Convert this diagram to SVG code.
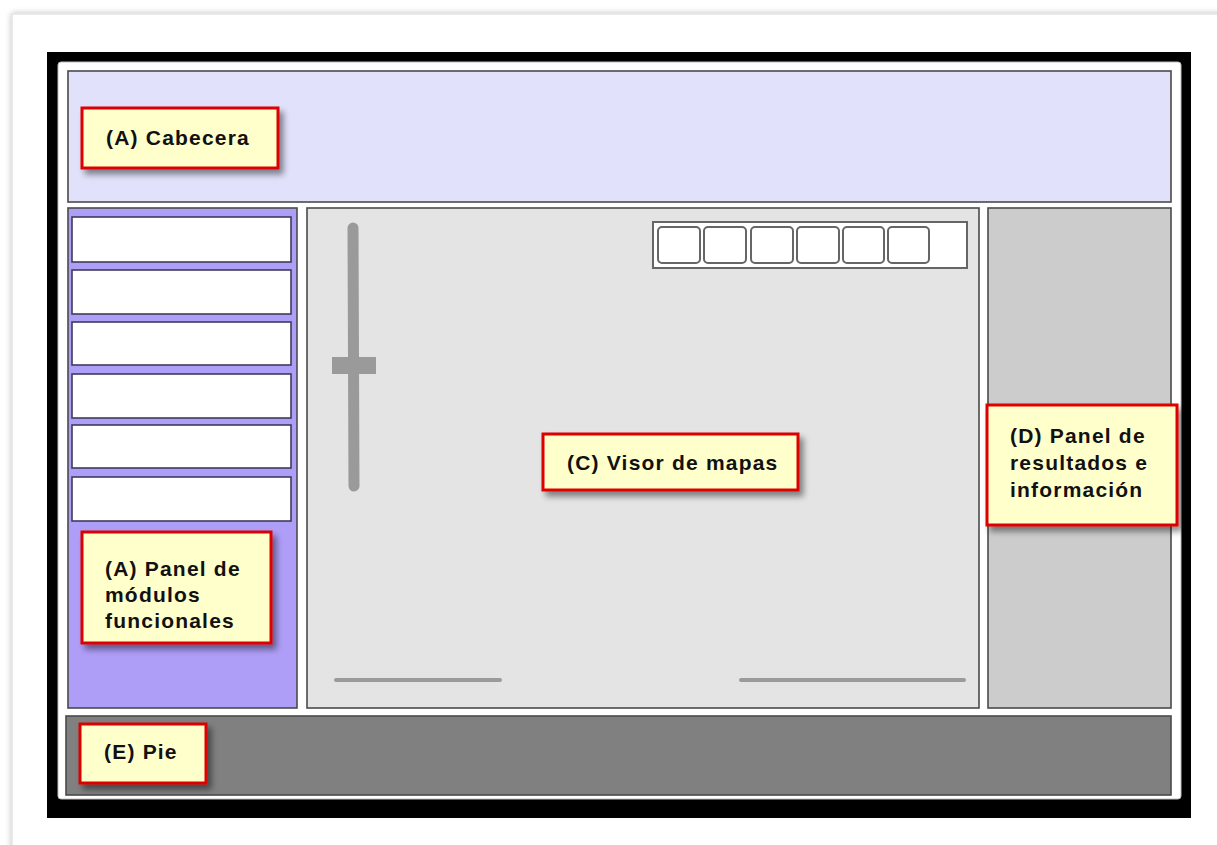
<svg xmlns="http://www.w3.org/2000/svg" width="1217" height="845" viewBox="0 0 1217 845">
<defs>
<filter id="shadow" x="-20%" y="-20%" width="150%" height="160%">
<feGaussianBlur in="SourceAlpha" stdDeviation="3"/>
<feOffset dx="4" dy="5" result="b"/>
<feComponentTransfer><feFuncA type="linear" slope="0.45"/></feComponentTransfer>
<feMerge><feMergeNode/><feMergeNode in="SourceGraphic"/></feMerge>
</filter>
<filter id="pageshadow" x="-5%" y="-5%" width="110%" height="110%">
<feGaussianBlur in="SourceAlpha" stdDeviation="3"/>
<feComponentTransfer><feFuncA type="linear" slope="0.25"/></feComponentTransfer>
<feMerge><feMergeNode/><feMergeNode in="SourceGraphic"/></feMerge>
</filter>
</defs>
<style>
.panel{stroke:#4a4a4a;stroke-width:1.6}
.item{fill:#ffffff;stroke:#3c3c5a;stroke-width:1.6}
.btn{fill:#ffffff;stroke:#666666;stroke-width:2}
.bar{fill:none;stroke:#9a9a9a;stroke-linecap:round}
.label rect{fill:#ffffcc;stroke:#dd0000;stroke-width:3;filter:url(#shadow)}
.label text{font-family:"Liberation Sans",Arial,sans-serif;font-weight:bold;font-size:21px;letter-spacing:1.2px;fill:#111111}
</style>
<rect width="1217" height="845" fill="#ffffff"/>
<rect x="12" y="14" width="1230" height="840" fill="#ffffff" stroke="#e4e4e4" stroke-width="1.5" filter="url(#pageshadow)"/>
<g id="frame">
<rect x="47" y="52" width="1144" height="766" fill="#000000"/>
<rect x="58" y="62" width="1123" height="737" rx="3" fill="#ffffff" stroke="#bdbdbd" stroke-width="1"/>
</g>
<g id="header">
<rect class="panel" x="68" y="71" width="1103" height="131" fill="#e1e1fb"/>
</g>
<g id="left-panel">
<rect class="panel" x="68" y="208" width="229" height="500" fill="#ae9ef8" stroke="#9585e8"/>
<rect class="item" x="72" y="217" width="219" height="45"/>
<rect class="item" x="72" y="270" width="219" height="44"/>
<rect class="item" x="72" y="322" width="219" height="43"/>
<rect class="item" x="72" y="374" width="219" height="44"/>
<rect class="item" x="72" y="425" width="219" height="43"/>
<rect class="item" x="72" y="477" width="219" height="44"/>
</g>
<g id="map-viewer">
<rect class="panel" x="307" y="208" width="672" height="500" fill="#e4e4e4"/>
<rect x="653" y="222" width="314" height="46" fill="#ffffff" stroke="#666666" stroke-width="2"/>
<rect class="btn" x="658" y="227" width="42" height="36" rx="4"/>
<rect class="btn" x="704" y="227" width="42" height="36" rx="4"/>
<rect class="btn" x="751" y="227" width="42" height="36" rx="4"/>
<rect class="btn" x="797" y="227" width="42" height="36" rx="4"/>
<rect class="btn" x="843" y="227" width="41" height="36" rx="4"/>
<rect class="btn" x="888" y="227" width="41" height="36" rx="4"/>
<line class="bar" x1="353" y1="228" x2="354" y2="486" stroke-width="11"/>
<rect x="332" y="357" width="44" height="17" fill="#9a9a9a"/>
<line class="bar" x1="336" y1="680" x2="500" y2="680" stroke-width="4"/>
<line class="bar" x1="741" y1="680" x2="964" y2="680" stroke-width="4"/>
</g>
<g id="right-panel">
<rect class="panel" x="988" y="208" width="183" height="500" fill="#cccccc"/>
</g>
<g id="footer">
<rect class="panel" x="66" y="716" width="1105" height="79" fill="#808080"/>
</g>
<g id="label-cabecera" class="label">
<rect x="82" y="108" width="196" height="60"/>
<text x="106" y="145">(A) Cabecera</text>
</g>
<g id="label-modulos" class="label">
<rect x="82" y="532" width="189" height="111"/>
<text x="105" y="576">(A) Panel de</text>
<text x="105" y="602">módulos</text>
<text x="105" y="628">funcionales</text>
</g>
<g id="label-visor" class="label">
<rect x="543" y="434" width="255" height="56"/>
<text x="567" y="470">(C) Visor de mapas</text>
</g>
<g id="label-resultados" class="label">
<rect x="987" y="405" width="190" height="120"/>
<text x="1010" y="443">(D) Panel de</text>
<text x="1010" y="470">resultados e</text>
<text x="1010" y="497">información</text>
</g>
<g id="label-pie" class="label">
<rect x="80" y="724" width="126" height="59"/>
<text x="104" y="759">(E) Pie</text>
</g>
<g id="connectors"/>
</svg>
